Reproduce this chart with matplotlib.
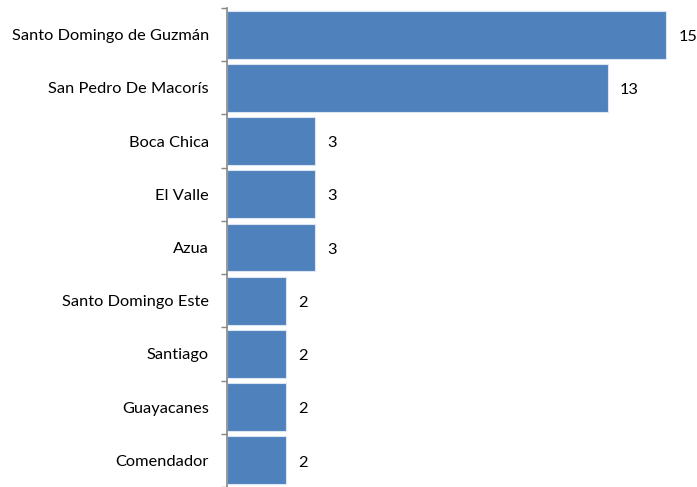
import numpy as np
import matplotlib.pyplot as plt

plt.rcParams['font.family'] = ['Lato', 'DejaVu Sans']

places = ["Santo Domingo de Guzmán", "San Pedro De Macorís", "Boca Chica", "El Valle",
          "Azua", "Santo Domingo Este", "Santiago", "Guayacanes", "Comendador"]
counts = [15, 13, 3, 3, 3, 2, 2, 2, 2]

fig = plt.figure(figsize=(6.97, 4.87), dpi=100)
ax = fig.add_axes([0.3257, 0.0, 0.67, 0.9836])

y = np.arange(len(places))
bars = ax.barh(y, counts, height=0.9, color="#4F81BD", edgecolor="#DCE6F2", linewidth=0.8)
for yi, v in zip(y, counts):
    ax.text(v + 0.42, yi + 0.04, str(v), va="center", ha="left", fontsize=11.8, color="black")

ax.set_xlim(0, 15.95)
ax.set_ylim(len(places) - 0.5, -0.5)
ax.set_yticks(y)
ax.set_yticklabels(places, fontsize=11.8)
ax.set_yticks(np.arange(-0.5, len(places)), minor=True)
ax.tick_params(axis="y", which="major", length=0, pad=13)
ax.tick_params(axis="y", which="minor", length=4, color="#868686", width=1)
ax.set_xticks([])
for s in ["top", "right", "bottom"]:
    ax.spines[s].set_visible(False)
ax.spines["left"].set_color("#868686")
ax.spines["left"].set_linewidth(1.2)

fig.savefig("out.png", dpi=100)
